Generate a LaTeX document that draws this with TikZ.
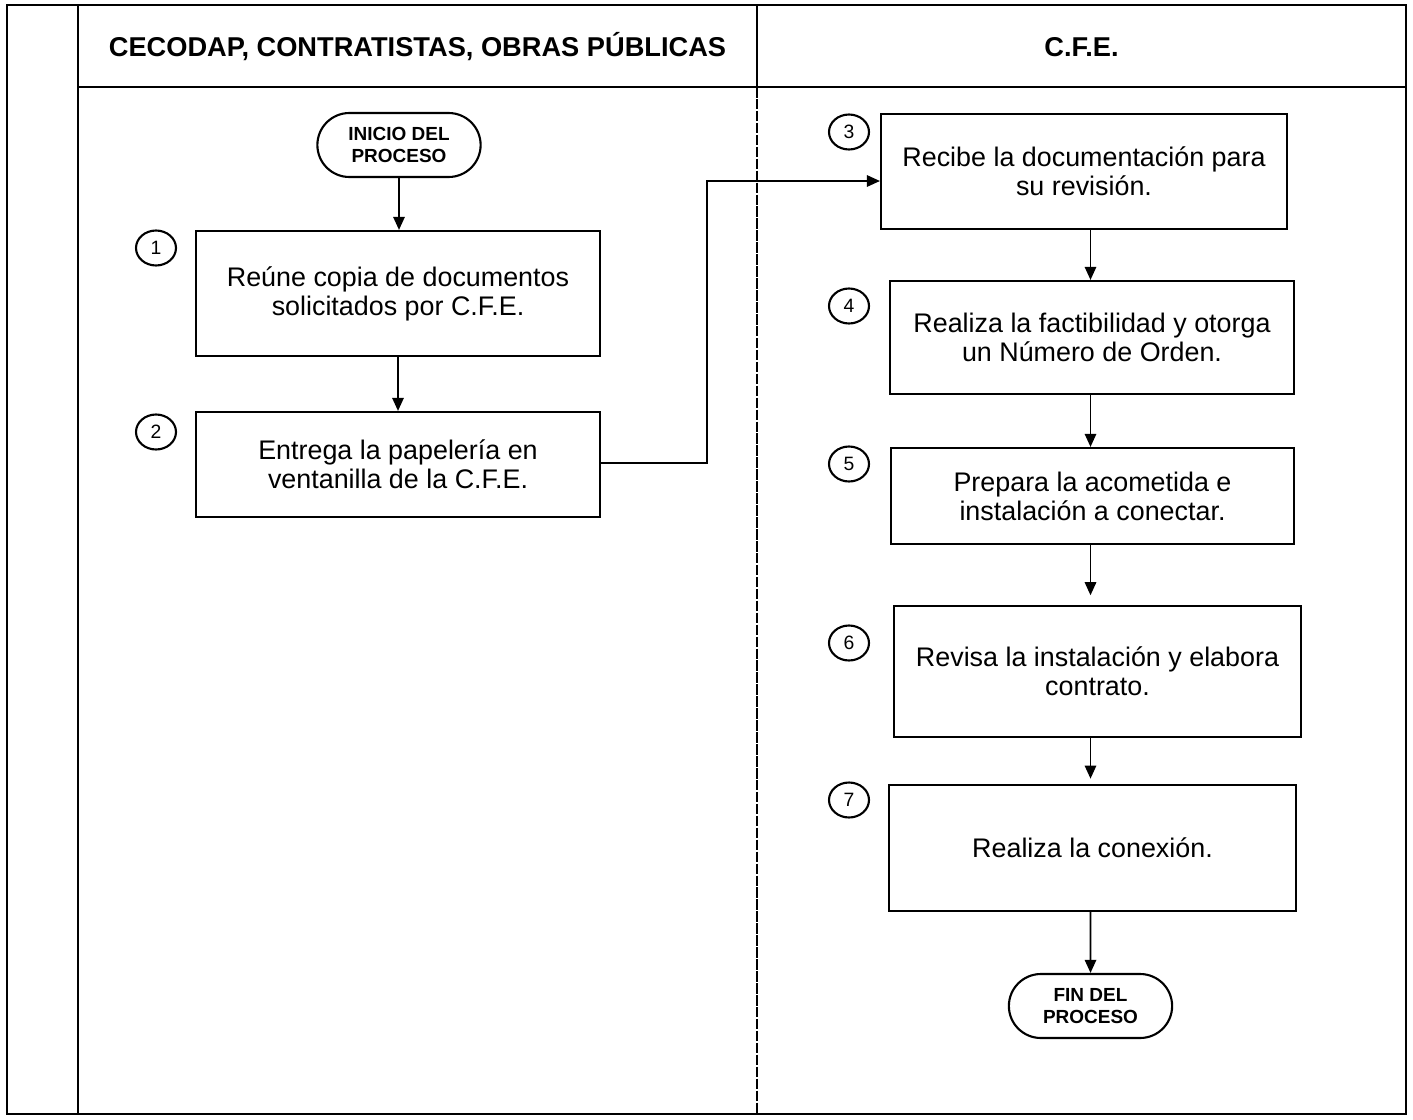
\documentclass[tikz,border=0pt]{standalone}
\usepackage{fontspec}
\setmainfont{Liberation Sans}
\usetikzlibrary{arrows.meta,shapes.misc,shapes.geometric}

\tikzset{
	caja/.style={draw, line width=1.2pt, align=center, font=\fontsize{15.3}{16.6}\selectfont, inner sep=4pt},
	terminal/.style={draw, line width=1.2pt, rounded rectangle, align=center, font=\fontsize{10.8}{12.4}\selectfont\bfseries, minimum width=3.5cm, minimum height=1.28cm},
	paso/.style={draw, line width=1.2pt, ellipse, minimum width=0.8cm, minimum height=0.7cm, inner sep=0pt, font=\fontsize{11}{12}\selectfont},
	flecha/.style={line width=1.1pt, -{Triangle[length=7.5pt,width=6.5pt]}},
	titulo/.style={font=\fontsize{15.5}{18}\selectfont\bfseries}
}

\begin{document}
\begin{tikzpicture}[x=0.02cm, y=-0.02cm]
			%%%%% START %%%%%
			
			\useasboundingbox (0, 0) rectangle (1413, 1119);
			
			% marco y carriles
			\draw[line width=1.3pt] (7, 5) rectangle (1406, 1114);
			\draw[line width=1.3pt] (78, 5) -- (78, 1114);
			\draw[line width=1.3pt] (78, 87) -- (1406, 87);
			\draw[line width=1.3pt] (757, 5) -- (757, 87);
			\draw[line width=1.3pt, dash pattern=on 6pt off 0.8pt] (757, 87) -- (757, 1114);
			
			\node[titulo] (carril1) at (417.5, 47) {CECODAP, CONTRATISTAS, OBRAS PÚBLICAS};
			\node[titulo] (carril2) at (1081.5, 47) {C.F.E.};
			
			% carril izquierdo
			\node[terminal] (inicio) at (399, 145) {INICIO DEL\\PROCESO};
			
			\node[caja, minimum width=8.08cm, minimum height=2.5cm] (box1) at (398, 293.5) {Reúne copia de documentos\\solicitados por C.F.E.};
			\node[paso] (p1) at (156, 248) {1};
			
			\node[caja, minimum width=8.08cm, minimum height=2.1cm] (box2) at (398, 464.5) {Entrega la papelería en\\ventanilla de la C.F.E.};
			\node[paso] (p2) at (156, 432) {2};
			
			% carril derecho
			\node[caja, minimum width=8.12cm, minimum height=2.3cm] (box3) at (1084, 171.5) {Recibe la documentación para\\su revisión.};
			\node[paso] (p3) at (849, 132) {3};
			
			\node[caja, minimum width=8.08cm, minimum height=2.26cm] (box4) at (1092, 337.5) {Realiza la factibilidad y otorga\\un Número de Orden.};
			\node[paso] (p4) at (849, 306) {4};
			
			\node[caja, minimum width=8.06cm, minimum height=1.92cm] (box5) at (1092.5, 496) {Prepara la acometida e\\instalación a conectar.};
			\node[paso] (p5) at (849, 464) {5};
			
			\node[caja, minimum width=8.14cm, minimum height=2.62cm] (box6) at (1097.5, 671.5) {Revisa la instalación y elabora\\contrato.};
			\node[paso] (p6) at (849, 643) {6};
			
			\node[caja, minimum width=8.14cm, minimum height=2.52cm] (box7) at (1092.5, 848) {Realiza la conexión.};
			\node[paso] (p7) at (849, 800) {7};
			
			\node[terminal] (fin) at (1090.5, 1006) {FIN DEL\\PROCESO};
			
			% conectores
			\coordinate (quiebre) at (707, 181);
			\draw[flecha] (inicio) -- (inicio |- box1.north);
			\draw[flecha] (box1) -- (box2);
			\draw[flecha] (box2.east |- 0, 463) -| (quiebre) -- (box3.west |- quiebre);
			\draw[flecha] (box3.south -| fin) -- (fin |- box4.north);
			\draw[flecha] (box4.south -| fin) -- (fin |- box5.north);
			\draw[flecha, shorten >=5.5pt] (box5.south -| fin) -- (fin |- box6.north);
			\draw[flecha, shorten >=3pt] (box6.south -| fin) -- (fin |- box7.north);
			\draw[flecha] (box7.south -| fin) -- (fin);
			
			%%%%% END %%%%%
		\end{tikzpicture}
\end{document}
